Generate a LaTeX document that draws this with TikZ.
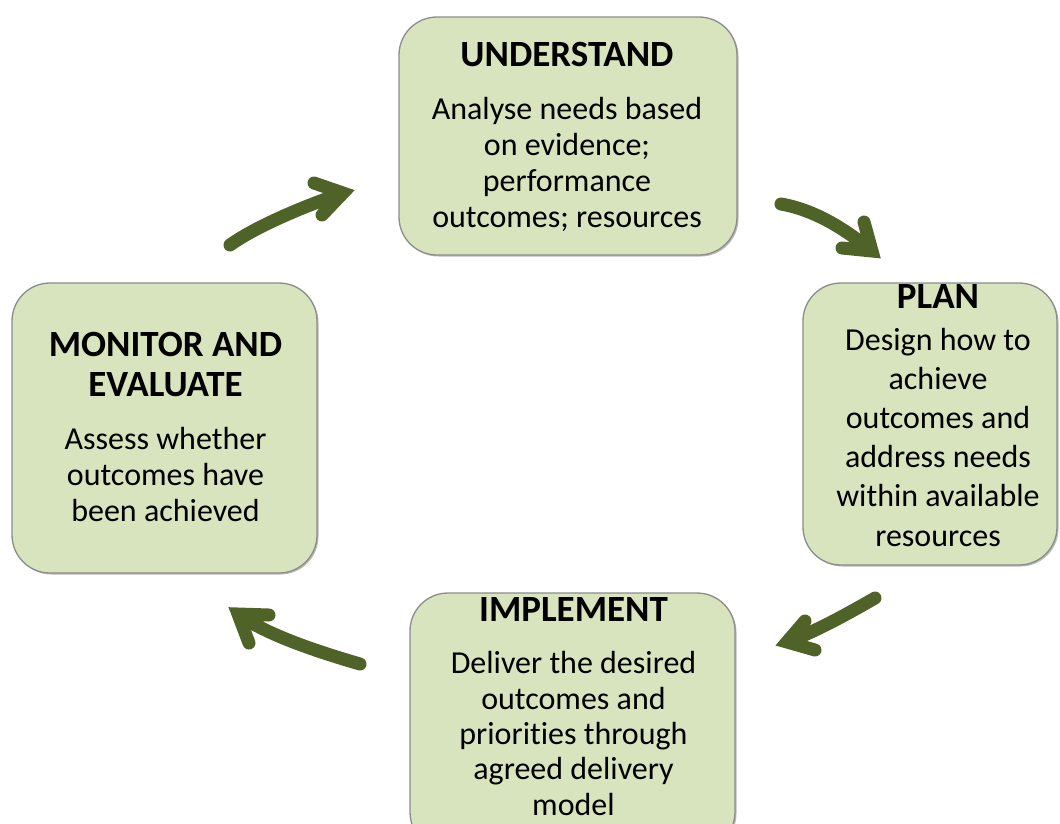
\documentclass[tikz,border=0pt]{standalone}
\usepackage{fontspec}
\setmainfont[Ligatures={NoCommon}]{Carlito}
\usetikzlibrary{shadows}
\definecolor{boxfill}{HTML}{D7E4BD}
\definecolor{boxline}{HTML}{8C8C8C}
\definecolor{arrowgreen}{HTML}{4F6228}
\begin{document}
\begin{tikzpicture}[x=1pt,y=-1pt,
  stagebox/.style={draw=boxline, line width=1.3pt, fill=boxfill, rounded corners=38pt,
    inner sep=0pt, drop shadow={shadow xshift=1.5pt, shadow yshift=-1.5pt, fill=black!45, opacity=.6}},
  title/.style={font=\fontsize{37}{40}\selectfont\bfseries, anchor=base, inner sep=0pt, align=center},
  body/.style={font=\fontsize{32}{36}\selectfont, anchor=base, inner sep=0pt, align=center},
  cyclearrow/.style={draw=arrowgreen, line width=13pt, line cap=round, line join=miter, miter limit=4}]
  \useasboundingbox (0,0) rectangle (1060,823);
  \clip (0,0) rectangle (1060,823);

  % stage boxes
  \node[stagebox, minimum width=338pt, minimum height=238pt] (ubox) at (568,136) {};
  \node[stagebox, minimum width=254pt, minimum height=282pt] (pbox) at (930,424) {};
  \node[stagebox, minimum width=305pt, minimum height=290pt] (mbox) at (164.5,428) {};
  \node[stagebox, minimum width=325pt, minimum height=257pt] (ibox) at (572.5,721.5) {};

  % multi-line texts are placed by the baseline of their last line

  % UNDERSTAND
  \node[title] (utitle) at (567,66) {UNDERSTAND};
  \node[body] (utext) at (567,227) {Analyse needs based\\on evidence;\\performance\\outcomes; resources};

  % PLAN
  \node[title] (ptitle) at (938,308) {PLAN};
  \node[body, font=\fontsize{32}{39.2}\selectfont] (ptext) at (938,546)
    {Design how to\\achieve\\outcomes and\\address needs\\within available\\resources};

  % MONITOR AND EVALUATE
  \node[title] (mtitle) at (165.5,396) {MONITOR AND\\EVALUATE};
  \node[body] (mtext) at (165.5,521) {Assess whether\\outcomes have\\been achieved};

  % IMPLEMENT
  \node[title] (ititle) at (573.5,621) {IMPLEMENT};
  \node[body, font=\fontsize{32}{35.3}\selectfont] (itext) at (573.5,815)
    {Deliver the desired\\outcomes and\\priorities through\\agreed delivery\\model};

  % arrow end points
  \coordinate (a1s) at (230,245);  \coordinate (a1t) at (343,193);
  \coordinate (a1l) at (314,183);  \coordinate (a1r) at (322,215);
  \coordinate (a2s) at (781,204);  \coordinate (a2t) at (872,251);
  \coordinate (a2l) at (864,222);  \coordinate (a2r) at (842,248);
  \coordinate (a3s) at (875,598);  \coordinate (a3t) at (787,642);
  \coordinate (a3l) at (805,621);  \coordinate (a3r) at (815,650);
  \coordinate (a4s) at (360,664);  \coordinate (a4t) at (238,614);
  \coordinate (a4l) at (269,615);  \coordinate (a4r) at (249,643);

  % cycle arrows
  \draw[cyclearrow] (a1s) .. controls (258,225) and (310,204) .. (a1t) (a1l) -- (a1t) -- (a1r);
  \draw[cyclearrow] (a2s) .. controls (815,210) and (845,229) .. (a2t) (a2l) -- (a2t) -- (a2r);
  \draw[cyclearrow] (a3s) .. controls (849,613) and (815,632) .. (a3t) (a3l) -- (a3t) -- (a3r);
  \draw[cyclearrow] (a4s) .. controls (322,653) and (266,635) .. (a4t) (a4l) -- (a4t) -- (a4r);
\end{tikzpicture}
\end{document}
